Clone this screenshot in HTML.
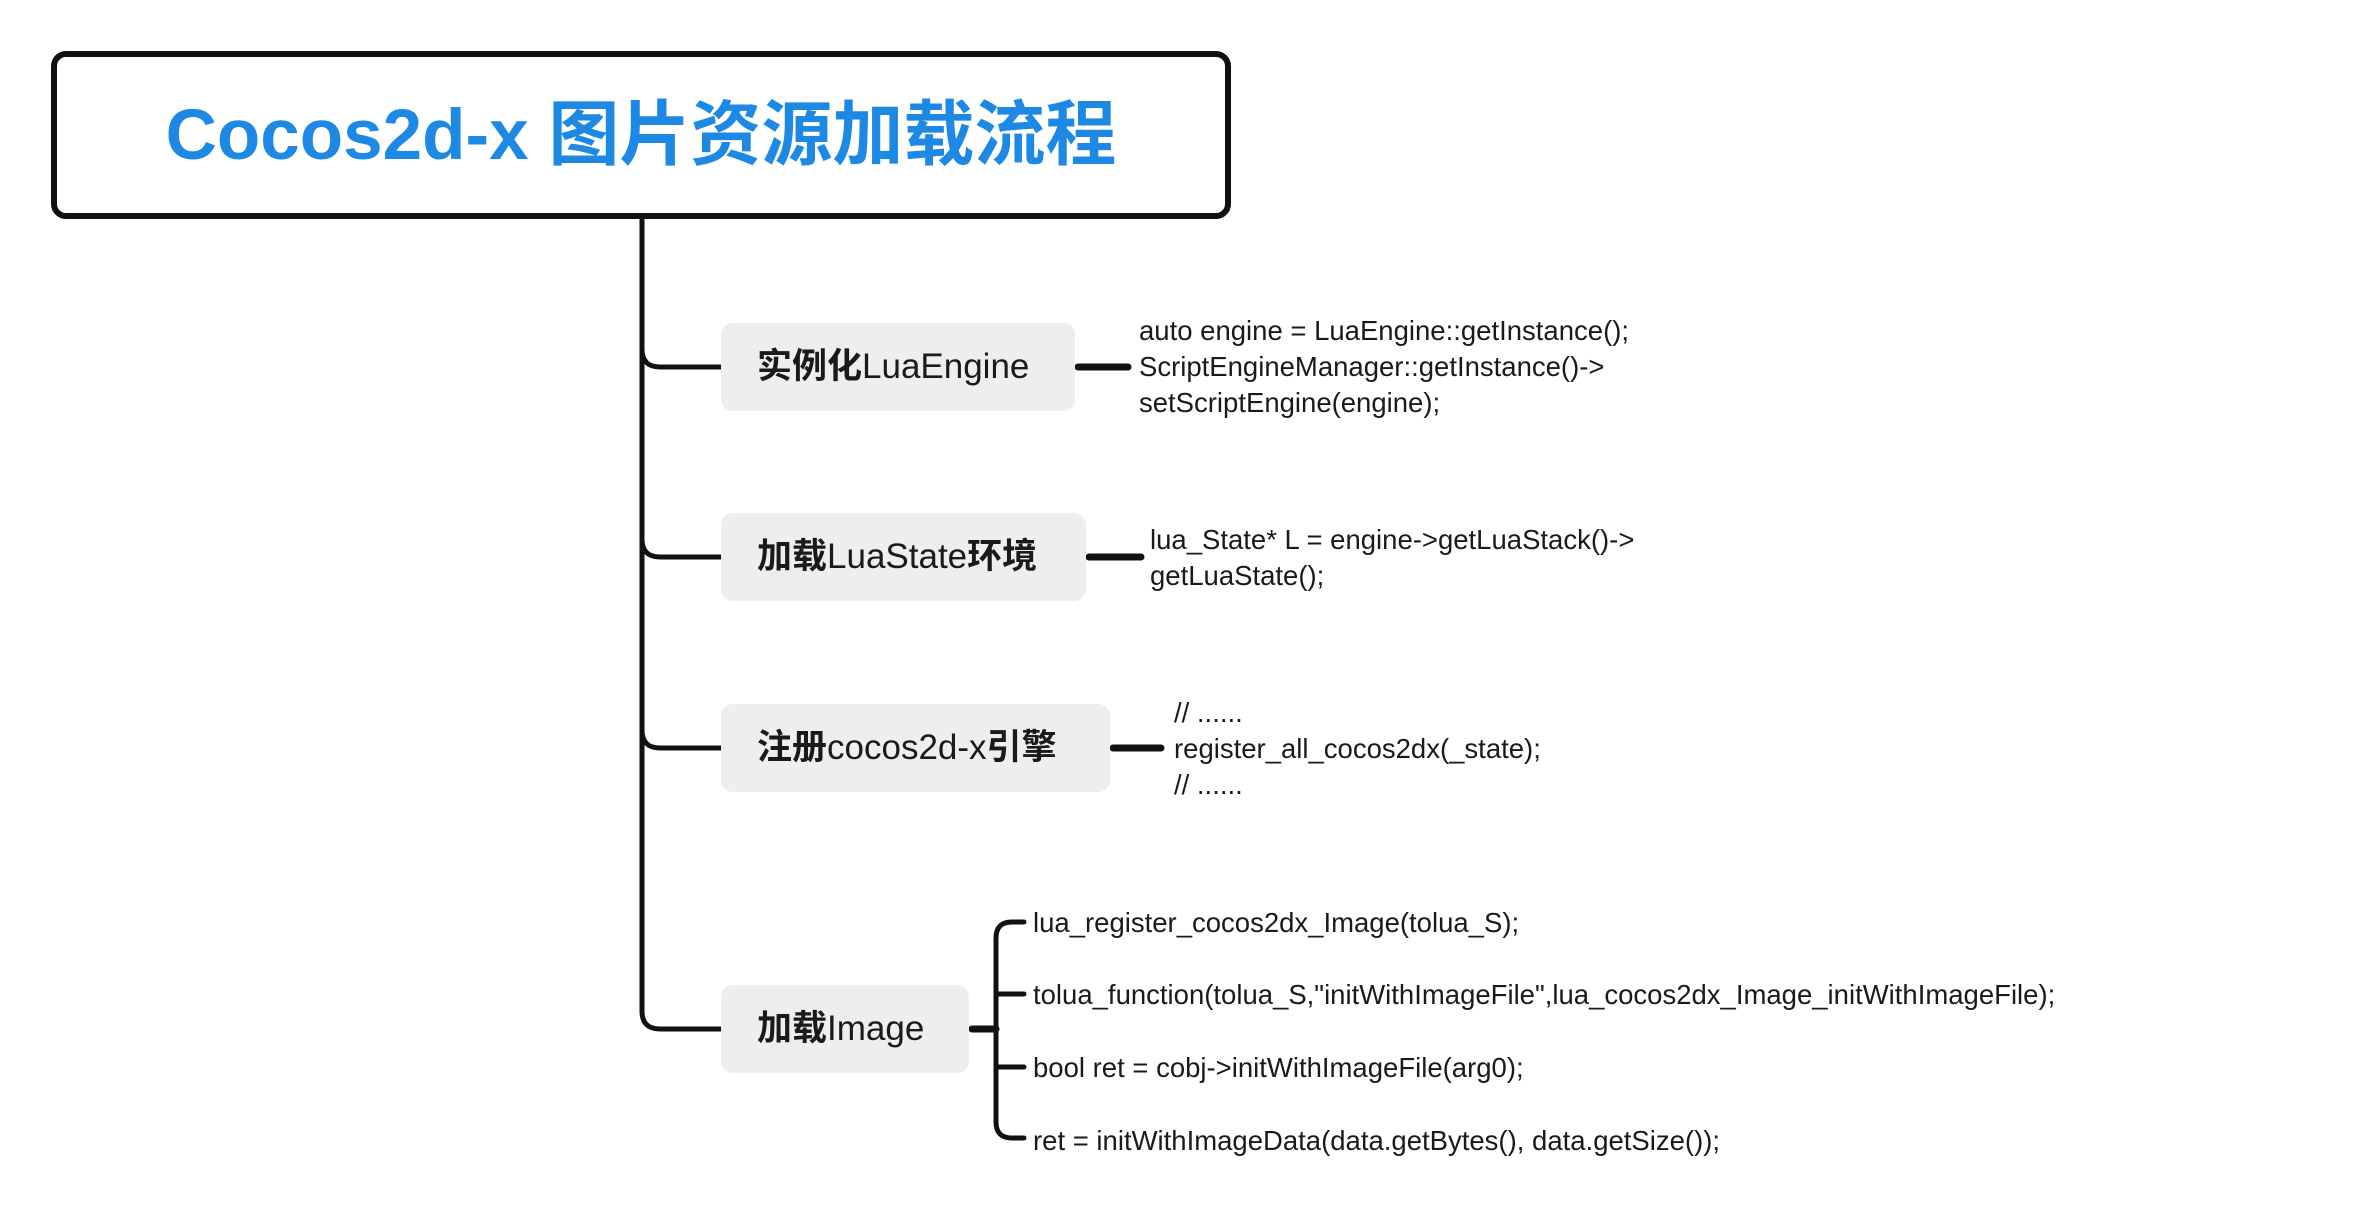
<!DOCTYPE html>
<html><head><meta charset="utf-8"><style>
html,body{margin:0;padding:0;background:#fff;}
body{width:2360px;height:1212px;position:relative;overflow:hidden;font-family:"Liberation Sans","Noto Sans CJK SC",sans-serif;}
.t{position:absolute;font-size:27.5px;color:#1a1a1a;white-space:nowrap;line-height:36px;}
.n{position:absolute;background:#eeeeee;border-radius:12px;height:88px;line-height:88px;font-size:35px;color:#1a1a1a;padding-left:36px;box-sizing:border-box;white-space:nowrap;}
.n b{font-weight:bold;}
</style></head><body>
<svg width="2360" height="1212" style="position:absolute;left:0;top:0" fill="none" stroke="#111" stroke-linecap="round">
<rect x="54" y="54" width="1174" height="162" rx="12" stroke-width="6"/>
<path d="M642 217 V1011 Q642 1029 660 1029 H721" stroke-width="5"/>
<path d="M642 349 Q642 367 660 367 H721" stroke-width="5"/>
<path d="M642 539 Q642 557 660 557 H721" stroke-width="5"/>
<path d="M642 730 Q642 748 660 748 H721" stroke-width="5"/>
<path d="M1078 367 H1128" stroke-width="7"/>
<path d="M1089 557 H1141" stroke-width="7"/>
<path d="M1113 748 H1161" stroke-width="7"/>
<path d="M972 1029 H996" stroke-width="7"/>
<path d="M1024 922 H1012 Q996 922 996 938 V1122 Q996 1138 1012 1138 H1024" stroke-width="5"/>
<path d="M996 994 H1024 M996 1067 H1024" stroke-width="5"/>
</svg>
<div style="position:absolute;left:54px;top:55px;width:1174px;height:162px;line-height:162px;text-align:center;font-size:71px;font-weight:bold;color:#1e88e5;">Cocos2d-x 图片资源加载流程</div>
<div class="n" style="left:721px;top:323px;width:354px;"><b>实例化</b>LuaEngine</div>
<div class="n" style="left:721px;top:513px;width:365px;"><b>加载</b>LuaState<b>环境</b></div>
<div class="n" style="left:721px;top:704px;width:389px;"><b>注册</b>cocos2d-x<b>引擎</b></div>
<div class="n" style="left:721px;top:985px;width:248px;"><b>加载</b>Image</div>
<div class="t" style="left:1139px;top:313px;">auto engine = LuaEngine::getInstance();<br>ScriptEngineManager::getInstance()-&gt;<br>setScriptEngine(engine);</div>
<div class="t" style="left:1150px;top:522px;">lua_State* L = engine-&gt;getLuaStack()-&gt;<br>getLuaState();</div>
<div class="t" style="left:1174px;top:695px;">// ......<br>register_all_cocos2dx(_state);<br>// ......</div>
<div class="t" style="left:1033px;top:905px;">lua_register_cocos2dx_Image(tolua_S);</div>
<div class="t" style="left:1033px;top:977px;">tolua_function(tolua_S,"initWithImageFile",lua_cocos2dx_Image_initWithImageFile);</div>
<div class="t" style="left:1033px;top:1050px;">bool ret = cobj-&gt;initWithImageFile(arg0);</div>
<div class="t" style="left:1033px;top:1123px;">ret = initWithImageData(data.getBytes(), data.getSize());</div>
</body></html>
